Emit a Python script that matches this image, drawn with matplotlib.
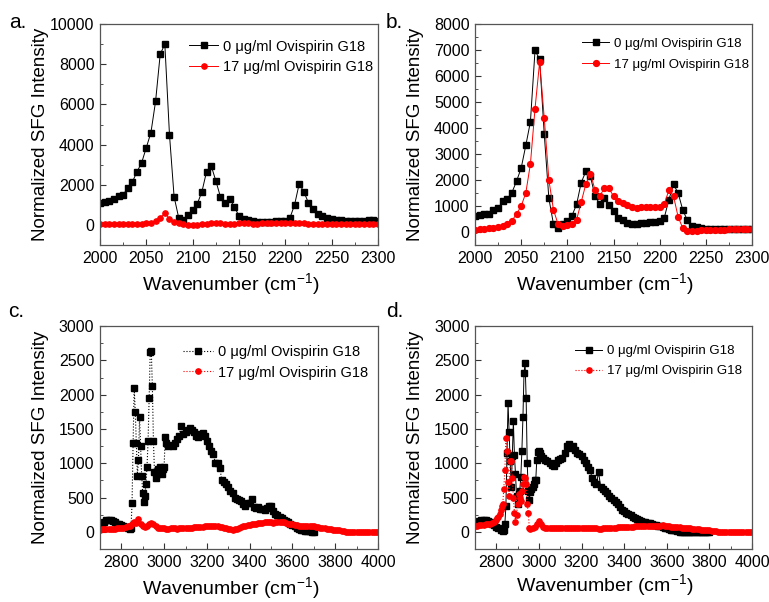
import numpy as np
import matplotlib
matplotlib.use("Agg")
import matplotlib.pyplot as plt
from matplotlib.ticker import MultipleLocator

plt.rcParams['font.family'] = ['Liberation Sans', 'DejaVu Sans']

label0 = "0 μg/ml Ovispirin G18"
label17 = "17 μg/ml Ovispirin G18"

# ---- panel a / b : 2000-2300 cm-1, 5 cm-1 steps ----
wn_ab = np.arange(2000, 2301, 5)

a_0 = [1100, 1150, 1200, 1300, 1450, 1500, 1850, 2150, 2650, 3100,
       3850, 4600, 6150, 8500, 9000, 4500, 1400, 350, 250, 500,
       750, 1050, 1650, 2650, 2950, 2200, 1400, 1100, 1300, 900,
       450, 320, 260, 200, 170, 160, 160, 170, 180, 190,
       200, 350, 1000, 2050, 1650, 1100, 800, 550, 420, 350,
       300, 270, 240, 220, 200, 200, 200, 220, 250, 250,
       220]
a_17 = [50, 50, 50, 40, 50, 50, 60, 50, 60, 70,
        80, 120, 200, 350, 600, 300, 150, 80, 40, 20,
        20, 20, 30, 50, 80, 100, 90, 70, 60, 70,
        80, 80, 80, 70, 70, 80, 80, 80, 80, 80,
        80, 90, 90, 100, 80, 60, 50, 40, 40, 40,
        40, 40, 40, 40, 40, 40, 40, 40, 40, 40,
        40]

b_0 = [630, 650, 700, 700, 860, 920, 1180, 1280, 1520, 1960,
       2460, 3330, 4240, 6990, 6640, 3760, 1290, 300, 140, 320,
       410, 630, 1060, 1900, 2330, 2140, 1370, 1090, 1300, 1050,
       790, 540, 470, 350, 290, 320, 340, 350, 370, 400,
       430, 550, 1250, 1830, 1500, 850, 450, 230, 180, 150,
       130, 120, 110, 100, 100, 100, 100, 100, 100, 100,
       100]
b_17 = [90, 100, 120, 150, 170, 200, 240, 300, 430, 700,
        1000, 1500, 2620, 4750, 6550, 4380, 2000, 850, 300, 250,
        260, 300, 470, 1150, 1840, 2250, 1620, 1380, 1680, 1680,
        1380, 1200, 1130, 1030, 960, 930, 950, 950, 950, 950,
        960, 1080, 1610, 1380, 580, 150, 50, 40, 50, 60,
        70, 80, 80, 90, 90, 100, 100, 100, 110, 110,
        110]

# ---- panel c ----
wn_c0 = np.concatenate([np.arange(2700, 2841, 10), np.arange(2845, 3011, 5),
                        np.arange(3020, 3701, 10)])
c_0 = [120, 130, 150, 170, 180, 175, 160, 140, 120, 110, 100, 90, 70, 50, 40,
       50, 420, 1300, 2100, 1750, 1300, 820, 1050, 1680, 1250,
       820, 560, 430, 520, 700, 950, 1330, 1950, 2620, 2640,
       2120, 1330, 870, 780, 850, 920, 880, 950, 900, 850,
       920, 950, 1380, 1300,
       1250, 1270, 1250, 1300, 1350, 1400, 1540, 1420, 1450, 1480,
       1510, 1490, 1450, 1400, 1380, 1420, 1440, 1400, 1330, 1250,
       1180, 1130, 1000, 1000, 930, 760, 720, 700, 650, 600,
       560, 500, 480, 470, 450, 400, 380, 420, 420, 480,
       360, 350, 360, 330, 330, 320, 350, 370, 380, 300,
       260, 240, 220, 200, 180, 160, 140, 120, 100, 80,
       60, 45, 30, 20, 15, 10, 8, 5, 5]
wn_c17 = np.arange(2700, 4001, 10)
c_17 = [30, 35, 40, 40, 45, 40, 40, 45, 50, 50,
        55, 60, 70, 80, 90, 110, 140, 130, 190, 110,
        80, 70, 80, 110, 130, 110, 80, 60, 55, 50,
        50, 45, 45, 50, 50, 50, 45, 50, 50, 55,
        55, 60, 60, 60, 65, 65, 70, 70, 75, 80,
        85, 90, 85, 80, 85, 80, 75, 65, 60, 50,
        40, 35, 30, 35, 45, 55, 65, 80, 90, 100,
        100, 110, 115, 120, 125, 130, 135, 140, 140, 140,
        140, 135, 140, 145, 140, 150, 145, 130, 120, 110,
        110, 100, 95, 90, 90, 85, 85, 80, 80, 80,
        80, 75, 70, 60, 55, 50, 45, 40, 40, 30,
        30, 25, 20, 15, 10, 5, 5, 0, 0, 0,
        0, 0, 0, 0, 0, 0, 0, 0, 0, 0,
        0]

# ---- panel d ----
wn_d0 = np.concatenate([np.arange(2700, 2831, 10), np.arange(2835, 3011, 5),
                        np.arange(3020, 3801, 10)])
d_0 = [140, 150, 160, 170, 180, 175, 160, 140, 120, 100, 70, 50, 30, 15,
       20, 110, 380, 1150, 1880, 1450, 1030, 650, 1100, 1620,
       1120, 840, 530, 400, 550, 600, 800, 1180, 1680, 2320,
       2460, 1950, 1000, 600, 470, 580, 620, 650, 700, 760,
       750, 1050, 1170, 1180, 1150, 1100,
       1080, 1050, 1040, 1000, 980, 960, 1000, 1050, 1060, 1080,
       1150, 1250, 1280, 1220, 1250, 1200, 1150, 1130, 1100, 1050,
       1000, 950, 900, 780, 720, 700, 870, 650, 620, 600,
       560, 530, 500, 470, 430, 400, 360, 320, 300, 280,
       260, 240, 215, 200, 185, 170, 160, 150, 145, 135,
       125, 115, 105, 95, 85, 80, 70, 60, 50, 40,
       30, 25, 20, 10, 5, 0, 0, -5, -5, -5,
       -5, -5, -5, -5, -5, -5, -5, -5, -5]
wn_d17 = np.concatenate([np.arange(2700, 2801, 10), np.arange(2805, 2961, 5),
                         np.arange(2970, 4001, 10)])
d_17 = [80, 90, 95, 100, 100, 110, 110, 120, 130, 150, 180,
        200, 220, 260, 320, 380, 400, 620, 900, 1370, 1180,
        730, 530, 1030, 1030, 790, 500, 280, 150, 250, 400,
        550, 500, 450, 600, 700, 800, 790, 700, 400, 280,
        50, 40,
        50, 70, 110, 160, 120, 70, 60, 55, 55, 50,
        50, 50, 55, 55, 50, 50, 55, 55, 50, 50,
        50, 55, 55, 50, 50, 50, 55, 55, 50, 50,
        50, 45, 45, 50, 50, 55, 55, 60, 60, 60,
        65, 65, 70, 70, 70, 75, 75, 75, 80, 80,
        80, 80, 85, 85, 80, 85, 80, 80, 85, 85,
        90, 100, 90, 80, 80, 75, 75, 70, 70, 65,
        60, 60, 55, 50, 50, 45, 40, 40, 35, 30,
        30, 25, 20, 20, 15, 10, 10, 5, 5, 5,
        0, 0, 0, 0, 0, 0, 0, 0, 0, 0,
        0, 0, 0, 0]

fig = plt.figure(figsize=(7.69, 6.02), dpi=100)
ax_a = fig.add_axes([0.130, 0.593, 0.3615, 0.367])
ax_b = fig.add_axes([0.6177, 0.593, 0.3602, 0.367])
ax_c = fig.add_axes([0.130, 0.088, 0.3615, 0.3704])
ax_d = fig.add_axes([0.6177, 0.088, 0.3602, 0.3704])

spine_col = '#555555'


def style(ax, xlim, ylim, xmaj, xmin, ymaj, ymin, xlab_y):
    ax.set_xlim(*xlim)
    ax.set_ylim(*ylim)
    ax.xaxis.set_major_locator(MultipleLocator(xmaj))
    ax.xaxis.set_minor_locator(MultipleLocator(xmin))
    ax.yaxis.set_major_locator(MultipleLocator(ymaj))
    ax.yaxis.set_minor_locator(MultipleLocator(ymin))
    ax.tick_params(which='both', direction='in', colors='#333333',
                   labelcolor='black', labelsize=11.5, pad=4)
    ax.tick_params(which='major', length=4, width=0.8)
    ax.tick_params(which='minor', length=2, width=0.6)
    for s in ax.spines.values():
        s.set_color(spine_col)
        s.set_linewidth(0.9)
    ax.set_xlabel("Wavenumber (cm$^{\\mathregular{-1}}$)", fontsize=14)
    ax.set_ylabel("Normalized SFG Intensity", fontsize=13.5)
    ax.xaxis.set_label_coords(0.47, xlab_y)
    ax.yaxis.set_label_coords(-0.185, 0.5)


# a
ax_a.plot(wn_ab, a_0, '-s', color='black', lw=0.7, ms=4.5, label=label0)
ax_a.plot(wn_ab, a_17, '-o', color='red', lw=0.7, ms=3.8, label=label17)
style(ax_a, (2000, 2300), (-1000, 10000), 50, 25, 2000, 1000, -0.12)
ax_a.legend(loc='upper left', bbox_to_anchor=(0.32, 0.93), frameon=False,
            fontsize=10.5, handlelength=2.0, handletextpad=0.35,
            labelspacing=0.45, borderpad=0, borderaxespad=0)

# b
ax_b.plot(wn_ab, b_0, '-s', color='black', lw=0.7, ms=4.5, label=label0)
ax_b.plot(wn_ab, b_17, '-o', color='red', lw=0.7, ms=4.2, label=label17)
style(ax_b, (2000, 2300), (-500, 8000), 50, 25, 1000, 500, -0.12)
ax_b.legend(loc='upper left', bbox_to_anchor=(0.385, 0.94), frameon=False,
            fontsize=9.5, handlelength=2.1, handletextpad=0.35,
            labelspacing=0.7, borderpad=0, borderaxespad=0)

# c
ax_c.plot(wn_c0, c_0, ':s', color='black', lw=0.8, ms=4.2, label=label0)
ax_c.plot(wn_c17, c_17, ':o', color='red', lw=0.8, ms=3.8, label=label17)
style(ax_c, (2700, 4000), (-250, 3000), 200, 100, 500, 250, -0.12)
ax_c.legend(loc='upper left', bbox_to_anchor=(0.30, 0.915), frameon=False,
            fontsize=10.5, handlelength=2.0, handletextpad=0.35,
            labelspacing=0.45, borderpad=0, borderaxespad=0)

# d
ax_d.plot(wn_d0, d_0, '-s', color='black', lw=0.7, ms=4.2, label=label0)
ax_d.plot(wn_d17, d_17, ':o', color='red', lw=0.8, ms=3.8, label=label17)
style(ax_d, (2700, 4000), (-250, 3000), 200, 100, 500, 250, -0.105)
ax_d.legend(loc='upper left', bbox_to_anchor=(0.36, 0.915), frameon=False,
            fontsize=9.5, handlelength=2.1, handletextpad=0.35,
            labelspacing=0.6, borderpad=0, borderaxespad=0)

for txt, x, y in [("a.", 0.012, 0.962), ("b.", 0.502, 0.962),
                  ("c.", 0.010, 0.482), ("d.", 0.502, 0.482)]:
    fig.text(x, y, txt, fontsize=15, va='center', ha='left')

fig.savefig("out.png", dpi=100)
